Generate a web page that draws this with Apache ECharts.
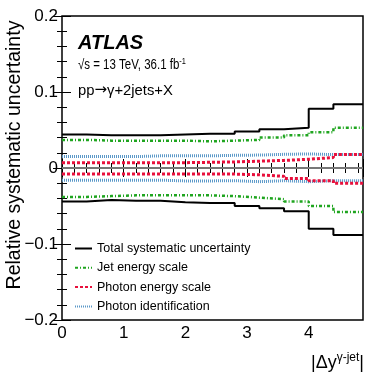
<!DOCTYPE html>
<html>
<head>
<meta charset="utf-8">
<script src="https://cdn.jsdelivr.net/npm/echarts@6/dist/echarts.min.js"></script>
<style>
  html, body { margin: 0; padding: 0; background: #fff; }
  #chart { width: 382px; height: 382px; }
</style>
</head>
<body>
<div id="chart"></div>
<script>
// bin edges in |dy(gamma-jet)|
const binEdges = [0, 0.4, 0.8, 1.2, 1.6, 2.0, 2.4, 2.8, 3.2, 3.6, 4.0, 4.4, 4.88]

const totalUp = [0.044, 0.043, 0.043, 0.043, 0.044, 0.045, 0.045, 0.048, 0.051, 0.053, 0.078, 0.084]
const totalDown = [-0.044, -0.042, -0.043, -0.043, -0.045, -0.046, -0.046, -0.050, -0.053, -0.057, -0.080, -0.088]
const jesUp = [0.037, 0.036, 0.036, 0.036, 0.036, 0.035, 0.036, 0.037, 0.040, 0.043, 0.047, 0.053]
const jesDown = [-0.038, -0.037, -0.036, -0.036, -0.036, -0.036, -0.037, -0.039, -0.041, -0.044, -0.050, -0.058]
const pesUp = [0.007, 0.007, 0.007, 0.007, 0.007, 0.0075, 0.008, 0.009, 0.010, 0.0115, 0.0137, 0.0176]
const pesDown = [-0.008, -0.008, -0.008, -0.008, -0.008, -0.008, -0.008, -0.009, -0.011, -0.0137, -0.0167, -0.020]
const pidUp = [0.015, 0.015, 0.015, 0.016, 0.016, 0.016, 0.0167, 0.017, 0.018, 0.0185, 0.0176, 0.0176]
const pidDown = [-0.016, -0.016, -0.016, -0.016, -0.017, -0.017, -0.0167, -0.018, -0.0167, -0.018, -0.0167, -0.0167]

const yTicks = { '0.2': '0.2', '0.1': '0.1', '0': '0', '-0.1': '\u22120.1', '-0.2': '\u22120.2' }

const legendNames = ['Total systematic uncertainty', 'Jet energy scale', 'Photon energy scale', 'Photon identification']

const FONT = 'Liberation Sans, Arial, Helvetica, sans-serif'

// histogram as step line: one point per bin start plus the last edge
const toSteps = (vals) => {
  const pts = vals.map((v, i) => [binEdges[i], v])
  pts.push([binEdges[binEdges.length - 1], vals[vals.length - 1]])
  return pts
}

const stepSeries = (name, vals, color, width, type, z) => ({
  name: name,
  type: 'line',
  step: 'end',
  data: toSteps(vals),
  showSymbol: false,
  symbol: 'none',
  silent: true,
  z: z,
  lineStyle: { color: color, width: width, type: type },
  itemStyle: { color: color }
})

const chart = echarts.init(document.getElementById('chart'))

const axisTick = { inside: true, length: 9, lineStyle: { color: '#000', width: 1 } }
const minorTick = { show: true, splitNumber: 5, length: 5, lineStyle: { color: '#000', width: 1 } }

const option = {
  animation: false,
  backgroundColor: '#fff',
  grid: { left: 62, right: 19, top: 16, bottom: 62, show: true, borderColor: '#000', borderWidth: 1.5 },
  legend: {
    data: legendNames,
    orient: 'vertical',
    left: 69,
    top: 237,
    itemWidth: 17,
    itemHeight: 12,
    itemGap: 6.3,
    selectedMode: false,
    itemStyle: { opacity: 0 },
    textStyle: { fontFamily: FONT, fontSize: 12.5, color: '#000' }
  },
  xAxis: [
    {
      type: 'value', min: 0, max: 4.88, interval: 1,
      axisLine: { show: false },
      axisTick: axisTick,
      minorTick: minorTick,
      splitLine: { show: false },
      axisLabel: { showMaxLabel: false, color: '#000', fontFamily: FONT, fontSize: 17, margin: 5 }
    },
    {
      type: 'value', min: 0, max: 4.88, interval: 1, position: 'top',
      axisLine: { show: false },
      axisTick: axisTick,
      minorTick: minorTick,
      splitLine: { show: false },
      axisLabel: { show: false }
    }
  ],
  yAxis: [
    {
      type: 'value', min: -0.2, max: 0.2, interval: 0.1,
      axisLine: { show: false },
      axisTick: axisTick,
      minorTick: minorTick,
      splitLine: { show: false },
      axisLabel: {
        color: '#000', fontFamily: FONT, fontSize: 17, margin: 4,
        formatter: (v) => yTicks[String(Math.round(v * 10) / 10)] || ''
      }
    },
    {
      type: 'value', min: -0.2, max: 0.2, interval: 0.1, position: 'right',
      axisLine: { show: false },
      axisTick: axisTick,
      minorTick: minorTick,
      splitLine: { show: false },
      axisLabel: { show: false }
    }
  ],
  series: [
    stepSeries(legendNames[3], pidUp, '#5a98c8', 3, [1, 1], 2),
    stepSeries(legendNames[3], pidDown, '#5a98c8', 3, [1, 1], 2),
    stepSeries(legendNames[2], pesUp, '#e8103c', 3, [3, 2], 3),
    stepSeries(legendNames[2], pesDown, '#e8103c', 3, [3, 2], 3),
    stepSeries(legendNames[1], jesUp, '#1fa51f', 2.5, [3, 2, 1, 2], 4),
    stepSeries(legendNames[1], jesDown, '#1fa51f', 2.5, [3, 2, 1, 2], 4),
    Object.assign(stepSeries(legendNames[0], totalUp, '#000', 2, 'solid', 5), {
      markLine: {
        silent: true,
        symbol: 'none',
        label: { show: false },
        lineStyle: { color: '#777', width: 2, type: 'solid' },
        data: [{ yAxis: 0 }]
      }
    }),
    stepSeries(legendNames[0], totalDown, '#000', 2, 'solid', 5)
  ],
  graphic: [
    {
      type: 'text', left: 78, top: 33,
      style: { text: 'ATLAS', font: 'italic bold 20px ' + FONT, fill: '#000' }
    },
    {
      // ROOT's Helvetica here is narrower than Liberation, squeeze a bit
      type: 'text', x: 78, y: 57, scaleX: 0.82,
      style: {
        text: '\u221As = 13 TeV, 36.1 fb{sup|-1}',
        font: '14px ' + FONT, fill: '#000', align: 'left', verticalAlign: 'top',
        rich: { sup: { fontSize: 9, fontFamily: FONT, padding: [0, 0, 8, 0] } }
      }
    },
    {
      type: 'text', left: 78, top: 83,
      style: {
        text: 'pp{a|\u2192}\u03b3+2jets+X', font: '14.8px ' + FONT, fill: '#000',
        rich: { a: { fontFamily: 'DejaVu Sans', fontSize: 15 } }
      }
    },
    {
      type: 'text', x: 15, y: 155, rotation: Math.PI / 2,
      style: {
        text: 'Relative systematic uncertainty', font: '19.5px ' + FONT, fill: '#000',
        align: 'center', verticalAlign: 'middle'
      }
    },
    {
      type: 'text', right: 18, top: 352,
      style: {
        text: '|\u0394y{sup|\u03b3-jet}|',
        font: '18px ' + FONT, fill: '#000',
        rich: { sup: { fontSize: 12, fontFamily: FONT, padding: [0, 0, 10, 0] } }
      }
    }
  ]
}

chart.setOption(option)
</script>
</body>
</html>
